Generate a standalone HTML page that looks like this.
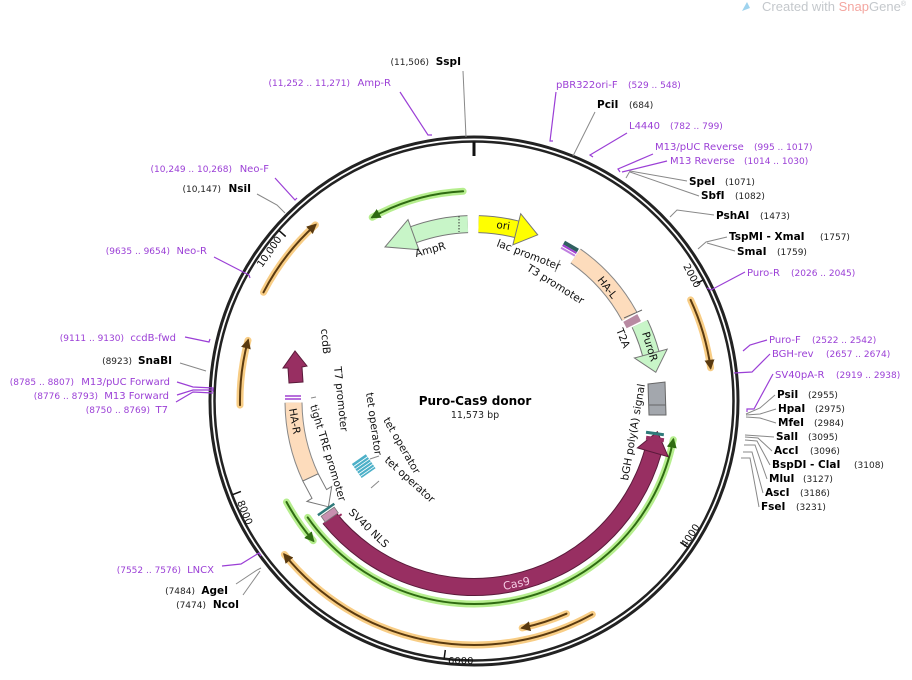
<!DOCTYPE html>
<html><head><meta charset="utf-8"><style>
html,body{margin:0;padding:0;background:#fff;}
svg{display:block;font-family:"DejaVu Sans","Liberation Sans",sans-serif;}
.p{fill:#9b3fd6;font-size:10px;}
.pr{fill:#9b3fd6;font-size:9px;}
.e{fill:#000;font-size:10.5px;font-weight:bold;}
.er{fill:#222;font-size:9px;}
.lab{font-size:10.5px;fill:#111;}
.gl{stroke:#888;stroke-width:1;fill:none;}
.pl{stroke:#9b3fd6;stroke-width:1.2;fill:none;}
</style></head><body>
<svg width="912" height="680" viewBox="0 0 912 680" xmlns="http://www.w3.org/2000/svg">
<defs>
<marker id="ag" viewBox="0 0 10 10" refX="8" refY="5" markerWidth="5" markerHeight="5" orient="auto" markerUnits="strokeWidth"><path d="M0,0 L10,5 L0,10 z" fill="#2f6b12"/></marker>
<marker id="ao" viewBox="0 0 10 10" refX="8" refY="5" markerWidth="5" markerHeight="5" orient="auto" markerUnits="strokeWidth"><path d="M0,0 L10,5 L0,10 z" fill="#5a3a10"/></marker>
</defs>

<path d="M742,11 L747,2 L750,8 Z" fill="#9fd3ee"/>
<text x="906" y="11" font-size="13" text-anchor="end" fill="#c4c8cc" font-family="Liberation Sans, sans-serif">Created with <tspan fill="#f4a6a0">Snap</tspan>Gene<tspan font-size="7" dy="-5">®</tspan></text>

<circle cx="474" cy="401" r="264" fill="none" stroke="#222" stroke-width="3"/>
<circle cx="474" cy="401" r="259.5" fill="none" stroke="#222" stroke-width="2.5"/>
<line x1="474" y1="142" x2="474" y2="156" stroke="#111" stroke-width="3"/>

<line x1="703" y1="280" x2="697" y2="283.5" stroke="#111" stroke-width="1.5"/>
<text x="683" y="266" font-size="10" fill="#111" transform="rotate(62 683 266)">2000</text>
<line x1="687.7" y1="547.3" x2="680.3" y2="542.2" stroke="#111" stroke-width="1.5"/>
<text x="686" y="548" font-size="10" fill="#111" transform="rotate(-56 686 548)">4000</text>
<line x1="444.2" y1="658.3" x2="445.3" y2="650" stroke="#111" stroke-width="1.5"/>
<text x="448" y="664" font-size="10" fill="#111">6000</text>
<line x1="232.5" y1="494.7" x2="240.9" y2="491.4" stroke="#111" stroke-width="1.5"/>
<text x="237" y="502" font-size="10" fill="#111" transform="rotate(68 237 502)">8000</text>
<line x1="279" y1="230.6" x2="285.7" y2="236.5" stroke="#111" stroke-width="1.5"/>
<text x="262" y="268" font-size="10" fill="#111" transform="rotate(-55 262 268)">10,000</text>

<g fill="none" stroke-linecap="round">
<path d="M463.1,191.3 A210 210 0 0 0 372.2,217.3" stroke="#b6ee8e" stroke-width="7"/>
<path d="M463.1,191.3 A210 210 0 0 0 372.2,217.3" stroke="#2f6b12" stroke-width="2" marker-end="url(#ag)"/>
<path d="M286.5,502 A213 213 0 0 0 313.2,540.7" stroke="#b6ee8e" stroke-width="7"/>
<path d="M286.5,502 A213 213 0 0 0 313.2,540.7" stroke="#2f6b12" stroke-width="2" marker-end="url(#ag)"/>
<path d="M307.7,517.4 A203 203 0 0 0 673.3,439.7" stroke="#b6ee8e" stroke-width="7"/>
<path d="M307.7,517.4 A203 203 0 0 0 673.3,439.7" stroke="#2f6b12" stroke-width="2" marker-end="url(#ag)"/>
<path d="M592.3,614.4 A244 244 0 0 1 284.4,554.5" stroke="#f8cd85" stroke-width="7"/>
<path d="M592.3,614.4 A244 244 0 0 1 284.4,554.5" stroke="#5a3a10" stroke-width="2" marker-end="url(#ao)"/>
<path d="M566.5,613.7 A232 232 0 0 1 522.2,627.9" stroke="#f8cd85" stroke-width="7"/>
<path d="M566.5,613.7 A232 232 0 0 1 522.2,627.9" stroke="#5a3a10" stroke-width="2" marker-end="url(#ao)"/>
<path d="M240,405.1 A234 234 0 0 1 248,340.4" stroke="#f8cd85" stroke-width="7"/>
<path d="M240,405.1 A234 234 0 0 1 248,340.4" stroke="#5a3a10" stroke-width="2" marker-end="url(#ao)"/>
<path d="M263.5,292.3 A237 237 0 0 1 315.4,224.9" stroke="#f8cd85" stroke-width="7"/>
<path d="M263.5,292.3 A237 237 0 0 1 315.4,224.9" stroke="#5a3a10" stroke-width="2" marker-end="url(#ao)"/>
<path d="M690.6,299.9 A239 239 0 0 1 710.6,367.8" stroke="#f8cd85" stroke-width="7"/>
<path d="M690.6,299.9 A239 239 0 0 1 710.6,367.8" stroke="#5a3a10" stroke-width="2" marker-end="url(#ao)"/>
</g>

<g fill="none">
<path d="M467.8,224.1 A177 177 0 0 0 413.5,234.7" stroke="#777" stroke-width="18"/>
<path d="M467.8,224.1 A177 177 0 0 0 413.5,234.7" stroke="#c8f5c8" stroke-width="16"/>
<path d="M478.6,224.1 A177 177 0 0 1 516.8,229.3" stroke="#777" stroke-width="18"/>
<path d="M478.6,224.1 A177 177 0 0 1 516.8,229.3" stroke="#ffff00" stroke-width="16"/>
<path d="M575.6,256 A177 177 0 0 1 629.6,316.6" stroke="#888" stroke-width="18"/>
<path d="M575.6,256 A177 177 0 0 1 629.6,316.6" stroke="#fddcbc" stroke-width="16"/>
<path d="M630.3,318 A177 177 0 0 1 633.8,324.7" stroke="#b88aa2" stroke-width="16"/>
<path d="M639.8,323.7 A183 183 0 0 1 650.8,353.6" stroke="#777" stroke-width="18"/>
<path d="M639.8,323.7 A183 183 0 0 1 650.8,353.6" stroke="#c8f5c8" stroke-width="16"/>
<path d="M310.5,477.3 A180.5 180.5 0 0 1 293.5,402.6" stroke="#888" stroke-width="18"/>
<path d="M310.5,477.3 A180.5 180.5 0 0 1 293.5,402.6" stroke="#fddcbc" stroke-width="16"/>
<path d="M329.5,518.1 A186 186 0 0 0 652.8,452.3" stroke="#5a1a3a" stroke-width="18"/>
<path d="M329.5,518.1 A186 186 0 0 0 652.8,452.3" stroke="#982f62" stroke-width="16"/>
</g>
<polygon points="418.9,249.7 408,219.6 385,246.9" fill="#c8f5c8" stroke="#777" stroke-width="1"/>
<polygon points="512.9,244.8 520.7,213.7 537.7,234.8" fill="#ffff00" stroke="#777" stroke-width="1"/>
<polygon points="634.4,358 667.2,349.2 655.8,372.3" fill="#c8f5c8" stroke="#777" stroke-width="1"/>
<polygon points="637.4,447.9 668.2,456.7 657.4,431.7" fill="#982f62" stroke="#5a1a3a" stroke-width="1"/>
<line x1="459" y1="216" x2="459" y2="232" stroke="#333" stroke-dasharray="1.5,1.5"/>
<polygon points="648,384 665,382 666,415 649,415" fill="#a3a7ad" stroke="#666" stroke-width="1"/>
<line x1="649" y1="405" x2="666" y2="405" stroke="#666"/>
<polygon points="302.8,481 318.2,473.8 326.6,489.6 331.7,486.5 328.4,506.8 306.9,501.4 312,498.3" fill="#fff" stroke="#777" stroke-width="1"/>
<polygon points="289,383 303,382 302,367 307,366 295,351 283,368 288,368" fill="#982f62" stroke="#5a1a3a" stroke-width="1"/>
<line x1="285" y1="396" x2="301" y2="396" stroke="#a040d0" stroke-width="1.5"/>
<line x1="285" y1="399" x2="301" y2="399" stroke="#a040d0" stroke-width="1.5"/>
<line x1="311" y1="398" x2="316" y2="397" stroke="#888"/>
<g transform="rotate(30 569 250)">
<rect x="561" y="244" width="16" height="4" fill="#2f6060"/>
<rect x="561" y="248" width="16" height="2" fill="#a040d0"/>
<rect x="561" y="251" width="16" height="2" fill="#c080e0"/>
</g>
<line x1="560" y1="260" x2="555" y2="272" stroke="#888"/>
<line x1="624" y1="318" x2="642" y2="310" stroke="#666"/>
<rect x="646" y="432" width="18" height="3" fill="#2f7a7a" transform="rotate(8 655 433)"/>
<rect x="646" y="437" width="18" height="4" fill="#982f62" transform="rotate(8 655 439)"/>
<g transform="rotate(-35 330 515)">
<rect x="320" y="507" width="20" height="2.5" fill="#2f7a7a"/>
<rect x="322" y="511" width="16" height="7" fill="#c890b0" stroke="#777" stroke-width=".8"/>
<rect x="320" y="520" width="20" height="2" fill="#982f62"/>
</g>
<g transform="rotate(-35 363 466)">
<rect x="355" y="458" width="17" height="17" fill="#4cb0c8"/>
<line x1="355" y1="461" x2="372" y2="461" stroke="#fff" stroke-width=".8"/>
<line x1="355" y1="464" x2="372" y2="464" stroke="#fff" stroke-width=".8"/>
<line x1="355" y1="467" x2="372" y2="467" stroke="#fff" stroke-width=".8"/>
<line x1="355" y1="470" x2="372" y2="470" stroke="#fff" stroke-width=".8"/>
<line x1="355" y1="473" x2="372" y2="473" stroke="#fff" stroke-width=".8"/>
</g>
<line x1="370" y1="459" x2="379" y2="456" stroke="#888"/>
<line x1="371" y1="488" x2="379" y2="481" stroke="#888"/>

<text class="lab" x="416" y="257" transform="rotate(-15 416 257)">AmpR</text>
<text class="lab" x="496" y="228" transform="rotate(8 496 228)">ori</text>
<text class="lab" x="496" y="246" transform="rotate(21 496 246)">lac promoter</text>
<text class="lab" x="526" y="270" transform="rotate(32 526 270)">T3 promoter</text>
<text class="lab" x="597" y="280" transform="rotate(52 597 280)">HA-L</text>
<text class="lab" x="616" y="330" transform="rotate(68 616 330)">T2A</text>
<text class="lab" x="642" y="333" transform="rotate(73 642 333)">PuroR</text>
<text class="lab" x="628" y="481" transform="rotate(-80 628 481)">bGH poly(A) signal</text>
<text x="504" y="590" font-size="11" fill="#f5cce4" transform="rotate(-12 504 590)">Cas9</text>
<text class="lab" x="348" y="513" transform="rotate(44 348 513)">SV40 NLS</text>
<text class="lab" x="310" y="406" transform="rotate(73 310 406)">tight TRE promoter</text>
<text class="lab" x="289" y="409" transform="rotate(80 289 409)">HA-R</text>
<text class="lab" x="321" y="329" transform="rotate(85 321 329)">ccdB</text>
<text class="lab" x="334" y="367" transform="rotate(84 334 367)">T7 promoter</text>
<text class="lab" x="366" y="393" transform="rotate(82 366 393)">tet operator</text>
<text class="lab" x="383" y="420" transform="rotate(60 383 420)">tet operator</text>
<text class="lab" x="384" y="461" transform="rotate(42 384 461)">tet operator</text>

<text x="475" y="405" font-size="12" font-weight="bold" text-anchor="middle" fill="#000">Puro-Cas9 donor</text>
<text x="475" y="418" font-size="9.5" text-anchor="middle" fill="#222">11,573 bp</text>

<polyline class="gl" points="463,71 466,137"/>
<polyline class="pl" points="400,92 428,135 432,135"/>
<polyline class="pl" points="556,92 550,141 553,141"/>
<polyline class="gl" points="595,112 573,156"/>
<polyline class="pl" points="627,133 590,155 593,157"/>
<polyline class="pl" points="653,154 618,169 620,172"/>
<polyline class="pl" points="667,161 622,172"/>
<polyline class="gl" points="687,181 630,171 626,178"/>
<polyline class="gl" points="699,196 630,172"/>
<polyline class="gl" points="714,215 677,210 670,217"/>
<polyline class="gl" points="727,237 706,242 698,249"/>
<polyline class="gl" points="735,251 707,243"/>
<polyline class="pl" points="745,272 711,290 707,288"/>
<polyline class="pl" points="767,340 750,345 743,351"/>
<polyline class="pl" points="770,354 752,372 734,373"/>
<polyline class="pl" points="773,374 754,409 747,409 747,412"/>
<polyline class="gl" points="775,395 760,408 746,414"/>
<polyline class="gl" points="776,409 760,414 746,415"/>
<polyline class="gl" points="776,423 760,418 746,417"/>
<polyline class="gl" points="774,437 760,436 745,435"/>
<polyline class="gl" points="772,451 758,438 745,437"/>
<polyline class="gl" points="770,465 757,441 745,440"/>
<polyline class="gl" points="767,479 755,445 744,445"/>
<polyline class="gl" points="763,493 752,452 743,452"/>
<polyline class="gl" points="759,507 750,458 741,458"/>
<polyline class="pl" points="275,178 295,200 297,198"/>
<polyline class="gl" points="257,194 277,205 285,213"/>
<polyline class="pl" points="214,257 249,275 250,278"/>
<polyline class="pl" points="185,337 209,342 210,339"/>
<polyline class="gl" points="180,363 206,371"/>
<polyline class="pl" points="177,382 193,387 213,388 213,392"/>
<polyline class="pl" points="177,395 193,390 213,390"/>
<polyline class="pl" points="176,402 193,392 213,393"/>
<polyline class="pl" points="222,566 241,564 259,553 261,556"/>
<polyline class="gl" points="236,584 257,570 261,568"/>
<polyline class="gl" points="243,595 260,571"/>

<text x="556" y="88"><tspan class="p">pBR322ori-F</tspan><tspan class="pr" x="628">(529 .. 548)</tspan></text>
<text x="597" y="108"><tspan class="e">PciI</tspan><tspan class="er" x="629">(684)</tspan></text>
<text x="629" y="129"><tspan class="p">L4440</tspan><tspan class="pr" x="670">(782 .. 799)</tspan></text>
<text x="655" y="150"><tspan class="p">M13/pUC Reverse</tspan><tspan class="pr" x="754">(995 .. 1017)</tspan></text>
<text x="670" y="164"><tspan class="p">M13 Reverse</tspan><tspan class="pr" x="744">(1014 .. 1030)</tspan></text>
<text x="689" y="185"><tspan class="e">SpeI</tspan><tspan class="er" x="725">(1071)</tspan></text>
<text x="701" y="199"><tspan class="e">SbfI</tspan><tspan class="er" x="735">(1082)</tspan></text>
<text x="716" y="219"><tspan class="e">PshAI</tspan><tspan class="er" x="760">(1473)</tspan></text>
<text x="729" y="240"><tspan class="e">TspMI  - XmaI</tspan><tspan class="er" x="820">(1757)</tspan></text>
<text x="737" y="255"><tspan class="e">SmaI</tspan><tspan class="er" x="777">(1759)</tspan></text>
<text x="747" y="276"><tspan class="p">Puro-R</tspan><tspan class="pr" x="791">(2026 .. 2045)</tspan></text>
<text x="769" y="343"><tspan class="p">Puro-F</tspan><tspan class="pr" x="812">(2522 .. 2542)</tspan></text>
<text x="772" y="357"><tspan class="p">BGH-rev</tspan><tspan class="pr" x="826">(2657 .. 2674)</tspan></text>
<text x="775" y="378"><tspan class="p">SV40pA-R</tspan><tspan class="pr" x="836">(2919 .. 2938)</tspan></text>
<text x="777" y="398"><tspan class="e">PsiI</tspan><tspan class="er" x="808">(2955)</tspan></text>
<text x="778" y="412"><tspan class="e">HpaI</tspan><tspan class="er" x="815">(2975)</tspan></text>
<text x="778" y="426"><tspan class="e">MfeI</tspan><tspan class="er" x="814">(2984)</tspan></text>
<text x="776" y="440"><tspan class="e">SalI</tspan><tspan class="er" x="808">(3095)</tspan></text>
<text x="774" y="454"><tspan class="e">AccI</tspan><tspan class="er" x="810">(3096)</tspan></text>
<text x="772" y="468"><tspan class="e">BspDI  - ClaI</tspan><tspan class="er" x="854">(3108)</tspan></text>
<text x="769" y="482"><tspan class="e">MluI</tspan><tspan class="er" x="803">(3127)</tspan></text>
<text x="765" y="496"><tspan class="e">AscI</tspan><tspan class="er" x="800">(3186)</tspan></text>
<text x="761" y="510"><tspan class="e">FseI</tspan><tspan class="er" x="796">(3231)</tspan></text>

<g text-anchor="end">
<text class="e" x="461" y="65">SspI</text><text class="er" x="429" y="65">(11,506)</text>
<text class="p" x="391" y="86">Amp-R</text><text class="pr" x="350" y="86">(11,252 .. 11,271)</text>
<text class="p" x="269" y="172">Neo-F</text><text class="pr" x="232" y="172">(10,249 .. 10,268)</text>
<text class="e" x="251" y="192">NsiI</text><text class="er" x="221" y="192">(10,147)</text>
<text class="p" x="207" y="254">Neo-R</text><text class="pr" x="170" y="254">(9635 .. 9654)</text>
<text class="p" x="176" y="341">ccdB-fwd</text><text class="pr" x="124" y="341">(9111 .. 9130)</text>
<text class="e" x="172" y="364">SnaBI</text><text class="er" x="132" y="364">(8923)</text>
<text class="p" x="170" y="385">M13/pUC Forward</text><text class="pr" x="74" y="385">(8785 .. 8807)</text>
<text class="p" x="169" y="399">M13 Forward</text><text class="pr" x="98" y="399">(8776 .. 8793)</text>
<text class="p" x="168" y="413">T7</text><text class="pr" x="150" y="413">(8750 .. 8769)</text>
<text class="p" x="214" y="573">LNCX</text><text class="pr" x="181" y="573">(7552 .. 7576)</text>
<text class="e" x="228" y="594">AgeI</text><text class="er" x="195" y="594">(7484)</text>
<text class="e" x="239" y="608">NcoI</text><text class="er" x="206" y="608">(7474)</text>
</g>
</svg>
</body></html>
